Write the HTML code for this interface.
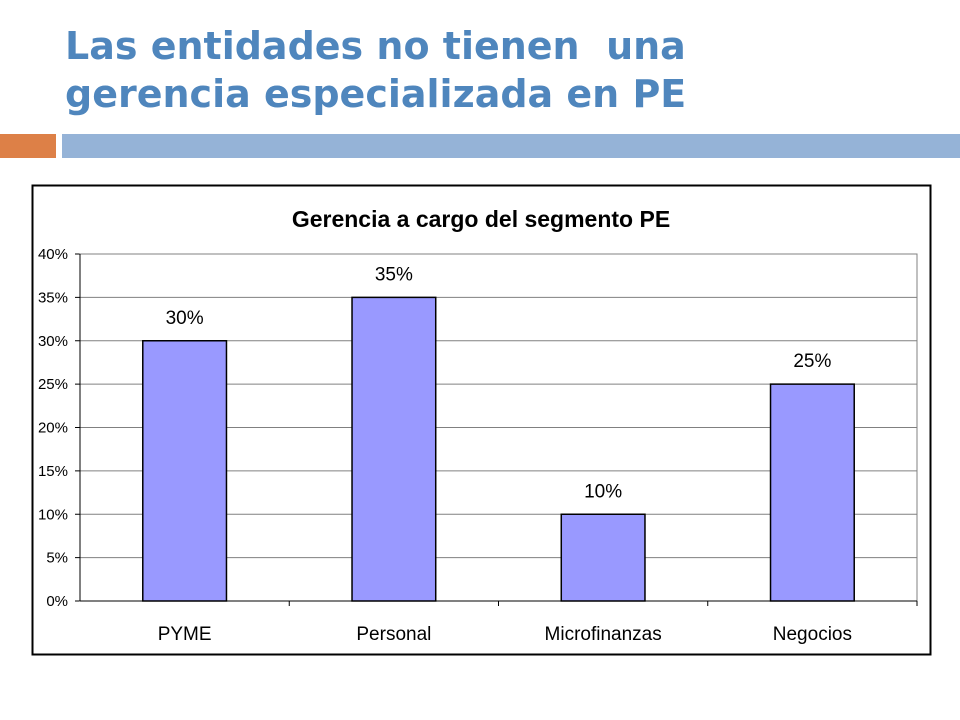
<!DOCTYPE html>
<html><head><meta charset="utf-8"><style>
body{margin:0;width:960px;height:720px;background:#fff;overflow:hidden;position:relative;font-family:"Liberation Sans",sans-serif}
.t{position:absolute;left:65px;top:22px;font:bold 38px/48px "DejaVu Sans","Liberation Sans",sans-serif;color:#4f86bd;letter-spacing:0px}
</style></head><body>
<div class="t">Las entidades no tienen&nbsp; una<br>gerencia especializada en PE</div>
<div style="position:absolute;left:0;top:134px;width:56px;height:24px;background:#dd8047"></div>
<div style="position:absolute;left:62px;top:134px;width:898px;height:24px;background:#95b3d7"></div>
<svg id="c" width="960" height="720" style="position:absolute;left:0;top:0">
<rect x="32.5" y="185.5" width="898" height="469" fill="#fff" stroke="#000" stroke-width="2"/>
<text x="481" y="227" text-anchor="middle" font-size="23" font-weight="bold" font-family="Liberation Sans">Gerencia a cargo del segmento PE</text>
</svg>
<script>
const categories=["PYME","Personal","Microfinanzas","Negocios"];
const values=[30,35,10,25];
const valueLabels=["30%","35%","10%","25%"];
const ticks=[0,5,10,15,20,25,30,35,40];
const tickLabels=["0%","5%","10%","15%","20%","25%","30%","35%","40%"];
const svg=document.getElementById('c');const NS="http://www.w3.org/2000/svg";
const x0=80,x1=917,y0=601,y1=254,maxV=40;
const y=v=>y0-(v/maxV)*(y0-y1);
const bw=(x1-x0)/categories.length;
function mk(t,a){const e=document.createElementNS(NS,t);for(const k in a)e.setAttribute(k,a[k]);svg.appendChild(e);return e;}
ticks.forEach((t,i)=>{
 const g=mk('line',{x1:x0,x2:x1,y1:y(t),y2:y(t),stroke:t===0?'#000':'#808080','stroke-width':1});
 
 
 const tk=mk('line',{x1:x0-5,x2:x0,y1:y(t),y2:y(t),stroke:'#000'});
 
 
 const l=mk('text',{x:x0-12,y:y(t)+5,'text-anchor':'end','font-size':15,'font-family':'Liberation Sans'});
 l.textContent=tickLabels[i];
 
 
});
const pr=mk('rect',{x:x0,y:y1,width:x1-x0,height:y0-y1,fill:'none',stroke:'#808080'});


const ya=mk('line',{x1:x0,x2:x0,y1:y1,y2:y0,stroke:'#000'});


const xa=mk('line',{x1:x0,x2:x1,y1:y0,y2:y0,stroke:'#000'});


categories.forEach((c,i)=>{
 const tk=mk('line',{x1:x0+bw*(i+1),x2:x0+bw*(i+1),y1:y0,y2:y0+5,stroke:'#000'});
 
 
 const cx=x0+bw*(i+0.5),w=bw*0.4;
 const b=mk('rect',{x:cx-w/2,y:y(values[i]),width:w,height:y0-y(values[i]),fill:'#9999ff',stroke:'#000','stroke-width':1.5});
 
 
 const v=mk('text',{x:cx,y:y(values[i])-17,'text-anchor':'middle','font-size':19,'font-family':'Liberation Sans'});
 v.textContent=valueLabels[i];
 
 
 const l=mk('text',{x:cx,y:640,'text-anchor':'middle','font-size':19,'font-family':'Liberation Sans'});
 l.textContent=c;
 
 
});
</script>
</body></html>
